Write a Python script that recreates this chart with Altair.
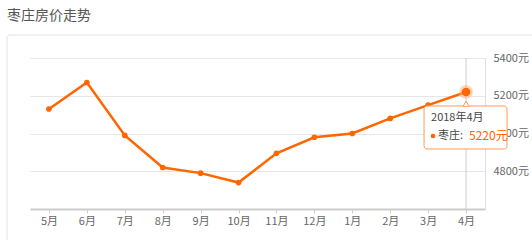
import altair as alt
import pandas as pd

# ---- data ----
months = ["5月", "6月", "7月", "8月", "9月", "10月", "11月", "12月", "1月", "2月", "3月", "4月"]
prices = [5130, 5270, 4990, 4820, 4790, 4740, 4895, 4980, 5000, 5080, 5150, 5220]
y_ticks = [4800, 5000, 5200, 5400]
y_domain = [4600, 5400]
series_name = "枣庄"
tip_title = "2018年4月"
chart_title = "枣庄房价走势"
highlight_month = "4月"

df = pd.DataFrame({"月": months, "价格": prices})
df["提示标题"] = tip_title
df["系列"] = series_name + ":"
df["标签"] = df["价格"].astype(str) + "元"

FONT = "Noto Sans CJK SC"
ORANGE = "#ff6600"
W, H = 455, 151

xs = alt.Scale(type="point", padding=0.5, domain=months)
ys = alt.Scale(domain=y_domain, nice=False, zero=False)

x_axis = alt.Axis(title=None, labelAngle=0, grid=False, domainColor="#cccccc", domainWidth=2,
                  tickColor="#cccccc", tickSize=4, labelColor="#666666", labelFontSize=11,
                  labelFont=FONT, labelPadding=2)
y_axis = alt.Axis(title=None, orient="right", values=y_ticks, labelExpr="datum.value + '元'",
                  grid=True, gridColor="#e6e6e6", domain=True, domainColor="#e0e0e0",
                  ticks=False, labelPadding=8, labelFontSize=11, labelColor="#666666",
                  labelFont=FONT)

base = alt.Chart(df)
X = alt.X("月:N", scale=xs, axis=x_axis, sort=months)
Y = alt.Y("价格:Q", scale=ys, axis=y_axis)

last = base.transform_filter(alt.datum["月"] == highlight_month)

card = last.mark_rect(fill="transparent", stroke="#e3e3e3", strokeWidth=1, cornerRadius=3).encode(
    x=alt.value(-23), x2=alt.value(520), y=alt.value(-23), y2=alt.value(200)
)

cross = last.mark_rule(color="#cccccc", strokeWidth=1).encode(
    x=X, y=alt.value(0), y2=alt.value(H)
)

line = base.mark_line(color=ORANGE, strokeWidth=2.5).encode(x=X, y=Y)
pts = base.mark_circle(color=ORANGE, size=32, opacity=1).encode(x=X, y=Y)

halo = last.mark_circle(color="#ffb27f", size=190, opacity=0.55).encode(x=X, y=Y)
hpt = last.mark_circle(color=ORANGE, size=75, opacity=1).encode(x=X, y=Y)

box = last.mark_rect(fill="white", stroke="#ff9a55", strokeWidth=1, cornerRadius=3,
                     xOffset=-42, x2Offset=41, yOffset=14, y2Offset=57).encode(
    x=X, x2="月:N", y=Y, y2="价格:Q"
)
notch = last.mark_point(shape="triangle-up", filled=True, fill="white", stroke="#ff9a55",
                        strokeWidth=1, size=40, yOffset=12, opacity=1).encode(x=X, y=Y)
notch_cover = last.mark_rect(fill="white", xOffset=-5, x2Offset=5, yOffset=15, y2Offset=18).encode(
    x=X, x2="月:N", y=Y, y2="价格:Q"
)

t1 = last.mark_text(align="left", baseline="middle", dx=-35, dy=26, font=FONT, fontSize=11,
                    color="#444444").encode(x=X, y=Y, text="提示标题:N")
dot = last.mark_circle(color=ORANGE, size=22, xOffset=-33, yOffset=44, opacity=1).encode(x=X, y=Y)
t2 = last.mark_text(align="left", baseline="middle", dx=-28, dy=44, font=FONT, fontSize=11,
                    color="#444444").encode(x=X, y=Y, text="系列:N")
t3 = last.mark_text(align="left", baseline="middle", dx=3, dy=44, font=FONT, fontSize=12,
                    color=ORANGE).encode(x=X, y=Y, text="标签:N")

chart = alt.layer(
    card, line, cross, pts, halo, hpt, box, notch, notch_cover, t1, dot, t2, t3
).properties(
    width=W, height=H,
    title=alt.TitleParams(chart_title, anchor="start", frame="group", dx=-23, offset=12,
                          fontSize=14, fontWeight="normal", color="#555555", font=FONT),
    autosize=alt.AutoSizeParams(type="none"),
    padding={"left": 30, "top": 58, "right": 47, "bottom": 31},
    background="white",
).configure_view(stroke=None)

chart.save("out.html", embed_options={"renderer": "svg", "actions": False})
